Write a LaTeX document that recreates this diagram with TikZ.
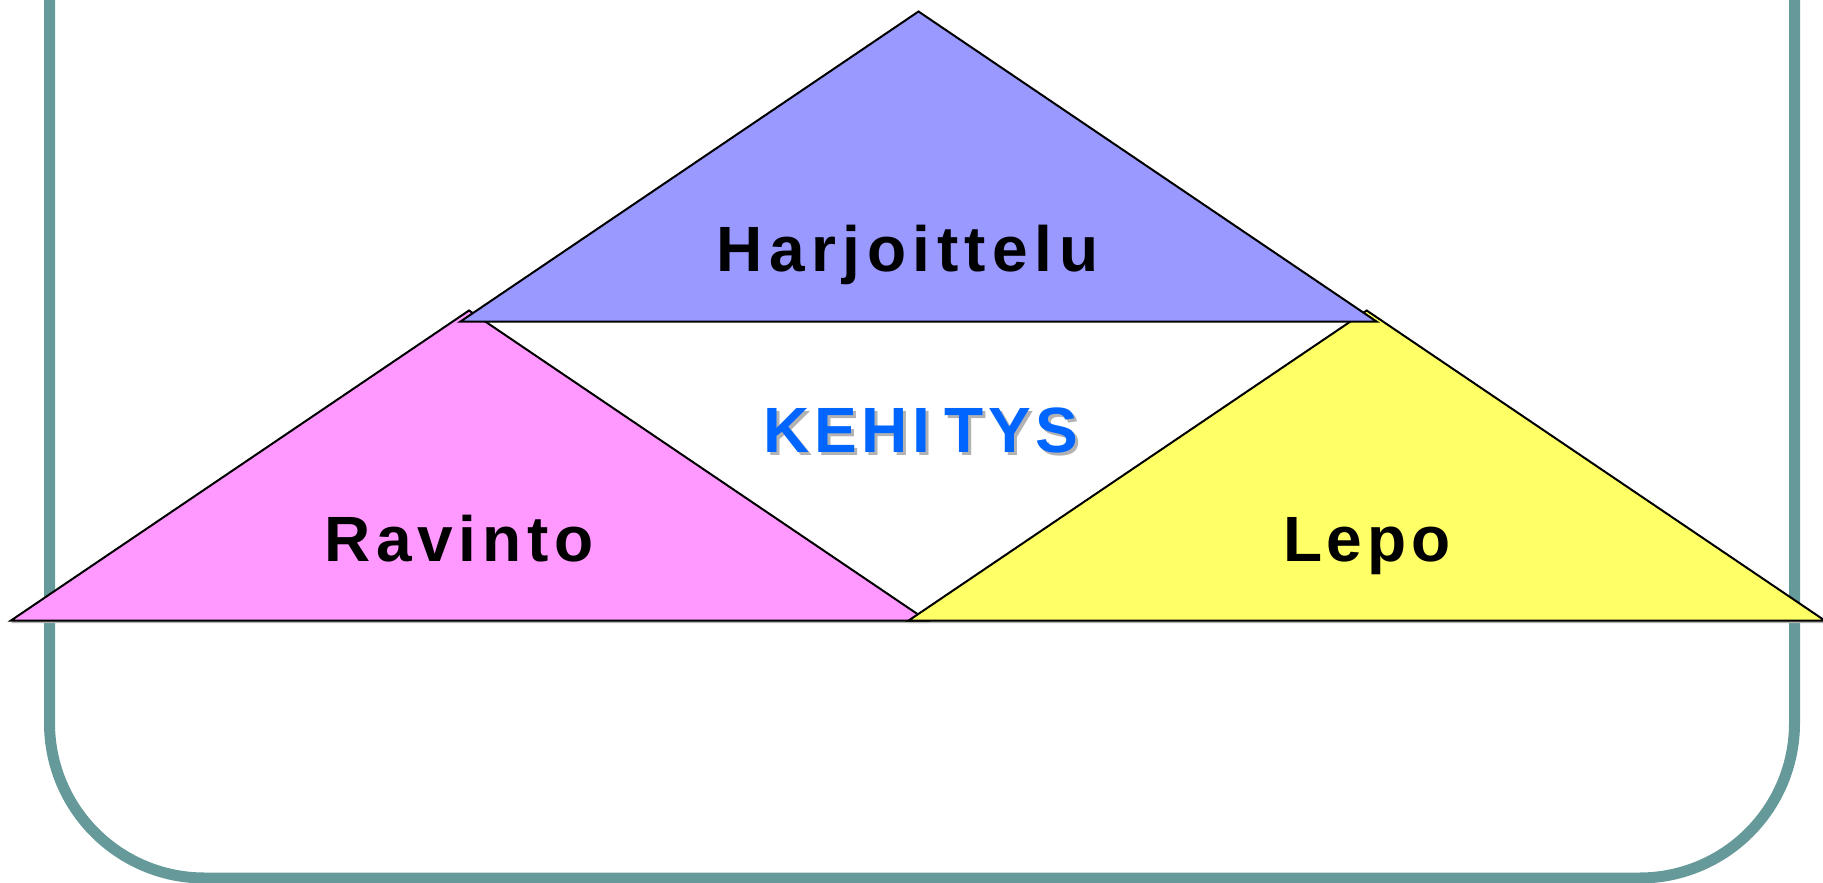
\documentclass[tikz,border=0pt]{standalone}
\usepackage{fontspec}
\setmainfont{Liberation Sans}
\makeatletter
\newcommand\spacedword[2]{\def\sw@gap{#1}\@tfor\sw@c:=#2\do{\sw@c\kern\sw@gap}\unkern}
\makeatother
\definecolor{framecol}{HTML}{669999}
\definecolor{triblue}{HTML}{9999FF}
\definecolor{tripink}{HTML}{FF99FF}
\definecolor{triyellow}{HTML}{FFFF66}
\definecolor{kehblue}{HTML}{0066FF}
\definecolor{shadowgray}{HTML}{B2B2B2}
\begin{document}
\begin{tikzpicture}[x=1pt,y=-1pt,
  tri/.style={draw=black,line width=2pt,line join=miter},
  trishadow/.style={fill=shadowgray},
  lbl/.style={font=\fontsize{64}{70}\bfseries\selectfont,anchor=base,inner sep=0pt}]
\useasboundingbox (0,0) rectangle (1823,883);
\clip (0,0) rectangle (1823,883);
\fill[white] (0,0) rectangle (1823,883);
% frame
\draw[line width=11pt,color=framecol,rounded corners=155pt]
  (49.5,-300) -- (49.5,878) -- (1794.5,878) -- (1794.5,-300);
% shadows
\fill[trishadow] (11,623) -- (469,313) -- (927,623) -- cycle;
\fill[trishadow] (908.7,623) -- (1366.7,313) -- (1824.7,623) -- cycle;
% triangles
\path[tri,fill=tripink] (11,620.5) -- (469,310.5) -- (927,620.5) -- cycle;
\path[tri,fill=triyellow] (908.7,620.5) -- (1366.7,310.5) -- (1824.7,620.5) -- cycle;
\path[tri,fill=triblue] (460.5,321.5) -- (918.5,11.5) -- (1376.5,321.5) -- cycle;
% labels
\node[lbl] (harj) at (907.5,271) {\spacedword{6.5pt}{Harjoittelu}};
\node[lbl] (ravi) at (459,561.7) {\spacedword{5.8pt}{Ravinto}};
\node[lbl] (lepo) at (1366.7,561.7) {\spacedword{4.8pt}{Lepo}};
\node[lbl,text=shadowgray] (kehs) at (923.8,455.7) {\spacedword{4.6pt}{KEHI}\kern14.6pt\spacedword{4.6pt}{TYS}};
\node[lbl,text=kehblue] (keh) at (920.8,452.7) {\spacedword{4.6pt}{KEHI}\kern14.6pt\spacedword{4.6pt}{TYS}};
\end{tikzpicture}
\end{document}
